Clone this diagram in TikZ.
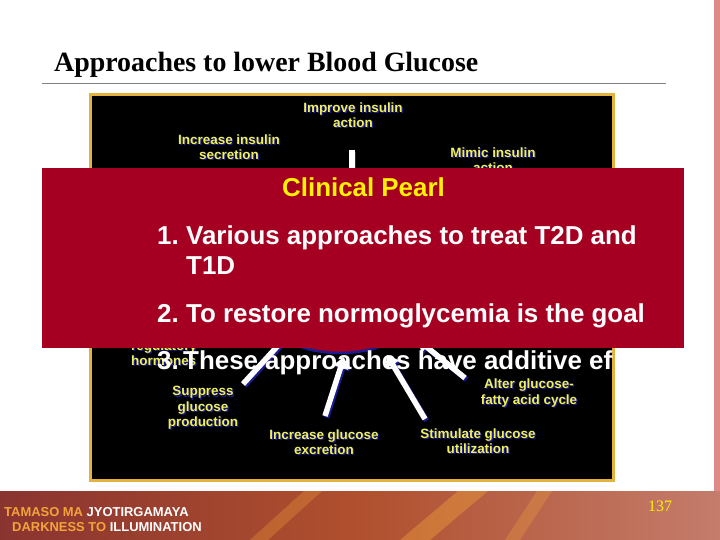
\documentclass[tikz,border=0pt]{standalone}
\usepackage{fontspec}
\setmainfont{Liberation Serif}
\newfontfamily\arialfont{Liberation Sans}
\usepackage{tikz}
\usetikzlibrary{arrows.meta,shapes.geometric}
\definecolor{pearlred}{HTML}{A50021}
\definecolor{pearlyellow}{HTML}{FFF200}
\definecolor{lblyellow}{HTML}{F0F05A}
\definecolor{shadenavy}{HTML}{1C1C90}
\definecolor{panelgold}{HTML}{E2B23C}
\definecolor{footorange}{HTML}{F4A43A}
\definecolor{footleft}{HTML}{8A3430}
\definecolor{footmid}{HTML}{B0502E}
\definecolor{footright}{HTML}{C47C6C}
\definecolor{pagepink}{HTML}{E08A88}
\newcommand{\OR}[1]{\textcolor{footorange}{#1}}
\newcommand\plabel[3]{%
  \node[pshadow] at (#2) {#3};
  \node[plbl] (#1) at (#2) {#3};}

\begin{document}
\begin{tikzpicture}[x=1bp, y=-1bp,
  plbl/.style={font=\arialfont\bfseries\fontsize{13.5}{15.5}\selectfont,
    align=center, text=lblyellow, inner sep=0pt},
  pshadow/.style={plbl, text=shadenavy, xshift=1.2bp, yshift=-1.2bp},
  parrow/.style={draw=white, line width=5.5bp,
    -{Triangle[length=11bp 0 0,width=15bp 0 0]}},
  parrowshadow/.style={parrow, draw=shadenavy,
    transform canvas={xshift=1.6bp, yshift=-1.6bp}},
  pearltitle/.style={anchor=base, inner sep=0pt, text=pearlyellow,
    font=\arialfont\bfseries\fontsize{26}{30}\selectfont},
  pearlitem/.style={anchor=base west, inner sep=0pt, text=white,
    font=\arialfont\bfseries\fontsize{26}{30}\selectfont},
  foot/.style={anchor=base west, inner sep=0pt, text=white,
    font=\arialfont\bfseries\fontsize{13}{15}\selectfont}]

  \fill[white] (0,0) rectangle (720,540);
  \useasboundingbox (0,0) rectangle (720,540);

  %% title and rule
  \node[anchor=base west, inner sep=0pt, font=\bfseries\fontsize{28}{32}\selectfont]
    (title) at (54,72) {Approaches to lower Blood Glucose};
  \draw[gray, line width=1.2bp] (42,83.5) -- (666,83.5);
  \fill[pagepink] (714,0) rectangle (720,491);

  %% the diagram panel
  \draw[panelgold, line width=3bp, fill=black] (90.5,94.5) rectangle (613.5,480.5);
  \node[ellipse, draw=shadenavy, line width=2.5bp, fill=pearlred,
    minimum width=180bp, minimum height=122bp] (bg) at (340,292) {};

  \coordinate (imp-t)   at (352,150); \coordinate (imp-h)   at (352,215);
  \coordinate (supp-t)  at (243,384); \coordinate (supp-h)  at (295,327);
  \coordinate (excr-t)  at (325,416); \coordinate (excr-h)  at (344,357);
  \coordinate (stim-t)  at (425,419); \coordinate (stim-h)  at (387,355);
  \coordinate (alter-t) at (465,378); \coordinate (alter-h) at (418,340);

  \foreach \a in {imp, supp, excr, stim, alter} {
    \draw[parrowshadow] (\a-t) -- (\a-h);
    \draw[parrow] (\a-t) -- (\a-h);
  }

  \plabel{imp}{353,115}{Improve insulin\\action}
  \plabel{incsec}{229,147}{Increase insulin\\secretion}
  \plabel{mimic}{493,160}{Mimic insulin\\action}
  \node[pshadow, align=left, anchor=west] at (131,353) {regulatory\\hormones};
  \node[plbl, align=left, anchor=west] (horm) at (131,353) {regulatory\\hormones};
  \plabel{supp}{203,408}{Suppress\\glucose\\production}
  \plabel{excr}{324,442}{Increase glucose\\excretion}
  \plabel{stim}{478,441}{Stimulate glucose\\utilization}
  \plabel{alter}{529,393}{Alter glucose-\\fatty acid cycle}

  %% clinical pearl box
  \fill[pearlred] (42,168) rectangle (684,348);
  \node[pearltitle] (pearl) at (363.5,197) {Clinical Pearl};
  \node[pearlitem] (n1) at (157,245) {1.};
  \node[pearlitem] (item1) at (186,245) {Various approaches to treat T2D and};
  \node[pearlitem] (item1b) at (186,275) {T1D};
  \node[pearlitem] (n2) at (157,322) {2.};
  \node[pearlitem] (item2) at (186,322) {To restore normoglycemia is the goal};
  \begin{scope}
    \clip (92,96) rectangle (612,479);
    \node[pearlitem] (n3) at (157,369) {3.};
    \node[pearlitem] (item3) at (183,369) {These approaches have additive effect};
  \end{scope}

  %% footer band
  \fill[left color=footleft, right color=footright, middle color=footmid]
    (0,491) rectangle (720,540);
  \fill[footorange, opacity=0.3] (250,540) -- (268,540) -- (322,491) -- (304,491) -- cycle;
  \fill[footorange, opacity=0.4] (400,540) -- (430,540) -- (488,491) -- (458,491) -- cycle;
  \fill[footorange, opacity=0.3] (505,540) -- (520,540) -- (552,491) -- (537,491) -- cycle;
  \node[foot] (motto) at (4,516) {\OR{TAMASO MA} JYOTIRGAMAYA};
  \node[foot] (motto2) at (12,531) {\OR{DARKNESS TO} ILLUMINATION};
  \node[anchor=base west, inner sep=0pt, text=pearlyellow,
    font=\fontsize{16}{18}\selectfont] (page) at (648,511) {137};

\end{tikzpicture}
\end{document}
